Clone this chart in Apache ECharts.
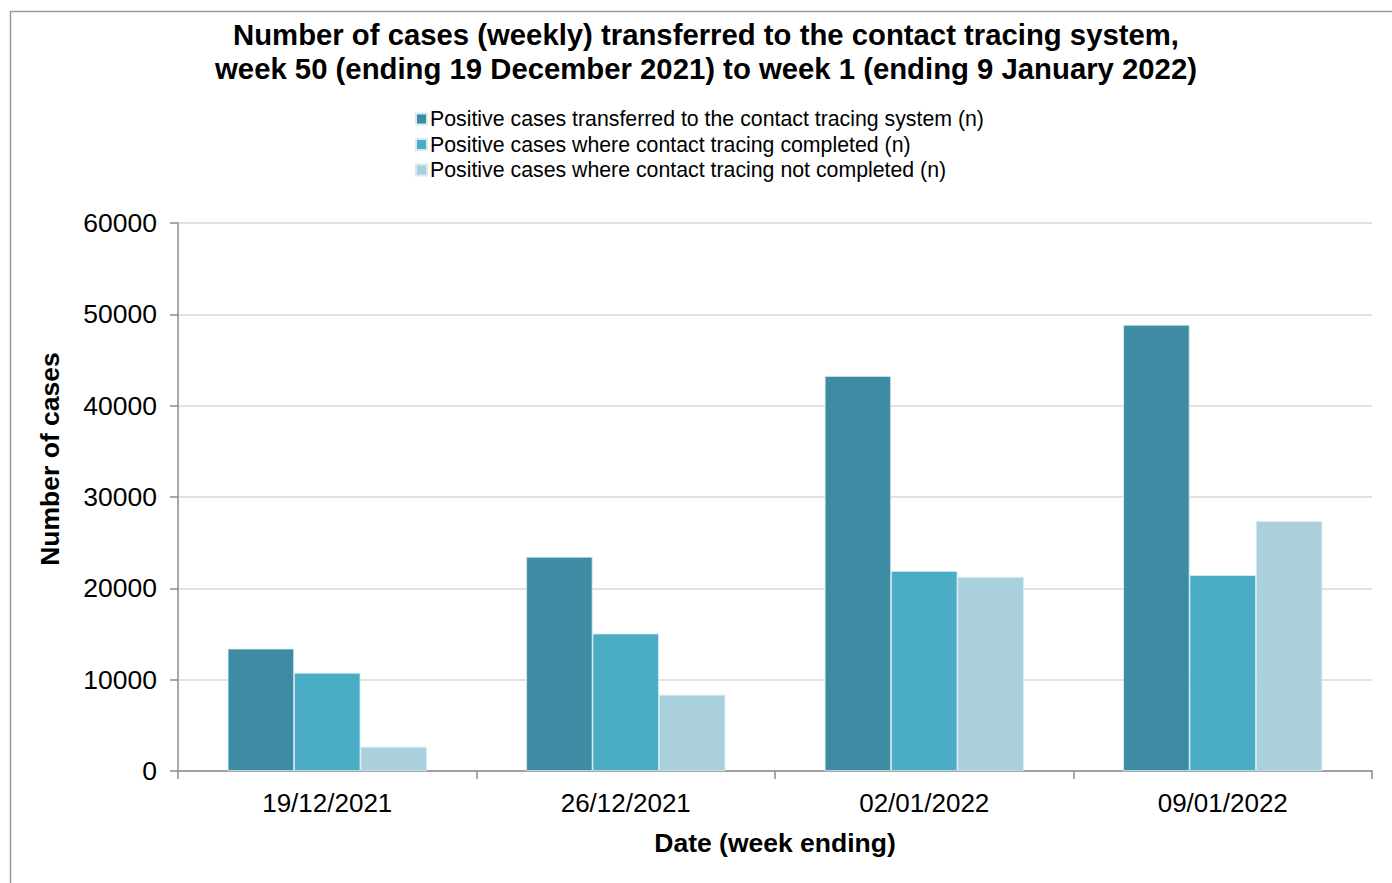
<!DOCTYPE html>
<html>
<head>
<meta charset="utf-8">
<script src="https://cdn.jsdelivr.net/npm/echarts@6/dist/echarts.min.js"></script>
<style>html,body{margin:0;padding:0;background:#fff}#c{width:1392px;height:883px}</style>
</head>
<body>
<div id="c"></div>
<script>
const categories = ['19/12/2021', '26/12/2021', '02/01/2022', '09/01/2022'];
const seriesNames = [
  'Positive cases transferred to the contact tracing system (n)',
  'Positive cases where contact tracing completed (n)',
  'Positive cases where contact tracing not completed (n)'
];
const transferred = [13400, 23450, 43250, 48850];
const completed = [10750, 15050, 21900, 21450];
const notCompleted = [2650, 8350, 21250, 27350];
const yTicks = { min: 0, max: 60000, interval: 10000 };

const colors = ['#3d8ca3', '#4bacc6', '#aacfdd'];
const FONT = 'Liberation Sans, Arial, sans-serif';

const chart = echarts.init(document.getElementById('c'), null, { renderer: 'svg' });
const values = [transferred, completed, notCompleted];
chart.setOption({
  animation: false,
  backgroundColor: '#ffffff',
  title: {
    text: 'Number of cases (weekly) transferred to the contact tracing system,\nweek 50 (ending 19 December 2021) to week 1 (ending 9 January 2022)',
    left: 701, top: 12, textAlign: 'center',
    textStyle: { fontFamily: FONT, fontSize: 29.3, fontWeight: 'bold', color: '#000', lineHeight: 34 }
  },
  legend: {
    orient: 'vertical', left: 410, top: 103, itemGap: 3.5, padding: 5,
    itemWidth: 11, itemHeight: 11, icon: 'rect',
    textStyle: { fontFamily: FONT, fontSize: 21.3, color: '#000', padding: [0, 0, 0, -2], lineHeight: 22 },
    data: seriesNames
  },
  grid: { left: 178, right: 20, top: 223, bottom: 112, containLabel: false },
  xAxis: {
    type: 'category', data: categories,
    name: 'Date (week ending)', nameLocation: 'middle', nameGap: 58,
    nameTextStyle: { fontFamily: FONT, fontSize: 26.5, fontWeight: 'bold', color: '#000' },
    axisLine: { lineStyle: { color: '#8c8c8c', width: 1.5 } },
    axisTick: { show: true, length: 8, lineStyle: { color: '#8c8c8c', width: 1.5 } },
    axisLabel: { fontFamily: FONT, fontSize: 26, color: '#000', margin: 19 }
  },
  yAxis: {
    type: 'value', min: yTicks.min, max: yTicks.max, interval: yTicks.interval,
    axisLine: { show: true, lineStyle: { color: '#8c8c8c', width: 1.5 } },
    axisTick: { show: true, length: 8, lineStyle: { color: '#8c8c8c', width: 1.5 } },
    axisLabel: { fontFamily: FONT, fontSize: 26.5, color: '#000', margin: 21, formatter: v => String(v) },
    splitLine: { lineStyle: { color: '#d9d9d9', width: 1.5 } }
  },
  graphic: [
    { type: 'rect', shape: { x: 10.5, y: 11.5, width: 1400, height: 900 }, style: { fill: 'none', stroke: '#9a9a9a', lineWidth: 1.5 }, silent: true, z: -10 },
    { type: 'text', x: 50, y: 459, rotation: Math.PI / 2, style: { text: 'Number of cases', fontFamily: FONT, fontSize: 26.5, fontWeight: 'bold', fill: '#000', align: 'center', verticalAlign: 'middle' } }
  ],
  series: seriesNames.map((n, i) => ({
    name: n, type: 'bar', data: values[i],
    barGap: '0%', barCategoryGap: '33.3%',
    itemStyle: { color: colors[i], borderColor: '#d6ecf2', borderWidth: 0.8 }
  }))
});
</script>
</body>
</html>
